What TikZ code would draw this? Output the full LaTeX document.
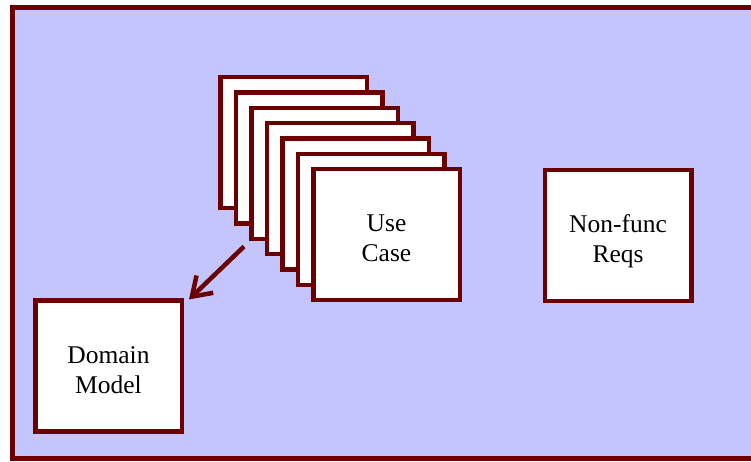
\documentclass[tikz,border=0pt]{standalone}
\usepackage{fontspec}
\setmainfont{Liberation Serif}
\usetikzlibrary{arrows.meta}
\definecolor{maroon}{HTML}{6B0000}
\definecolor{lavender}{HTML}{C4C4FF}
\tikzset{
  card/.style={draw=maroon, fill=white, line width=4.5pt, inner sep=0pt,
    minimum width=146.5pt, minimum height=131pt, align=center,
    text height=54pt, text depth=0pt,
    font=\fontsize{25.5}{30}\selectfont},
  frame/.style={draw=maroon, fill=lavender, line width=5pt},
  link/.style={draw=maroon, line width=4.5pt,
    -{Straight Barb[length=18pt,width=24pt]}}
}
\begin{document}
\begin{tikzpicture}[x=1pt,y=-1pt]
  \useasboundingbox (0,0) rectangle (751,462);
  \clip (0,0) rectangle (751,462);
  % background panel (its right side runs past the page edge)
  \draw[frame] (12.3,7.5) rectangle (770,458.5);
  % stack of use case cards, back to front
  \foreach \k in {0,...,5} {
    \node[card] (uc\k) at ({293.8+15.45*\k},{142.5+15.4*\k}) {};
  }
  \node[card] (uc) at (386.5,234.7) {Use\\Case};
  \node[card] (nfr) at (618,235.3) {Non-func\\Reqs};
  \node[card] (dm) at (108.5,366.2) {Domain\\Model};
  \coordinate (ucfoot) at (244,246.5);
  \draw[link] (ucfoot) -- ([xshift=5pt,yshift=-1pt]dm.north east);
\end{tikzpicture}
\end{document}
